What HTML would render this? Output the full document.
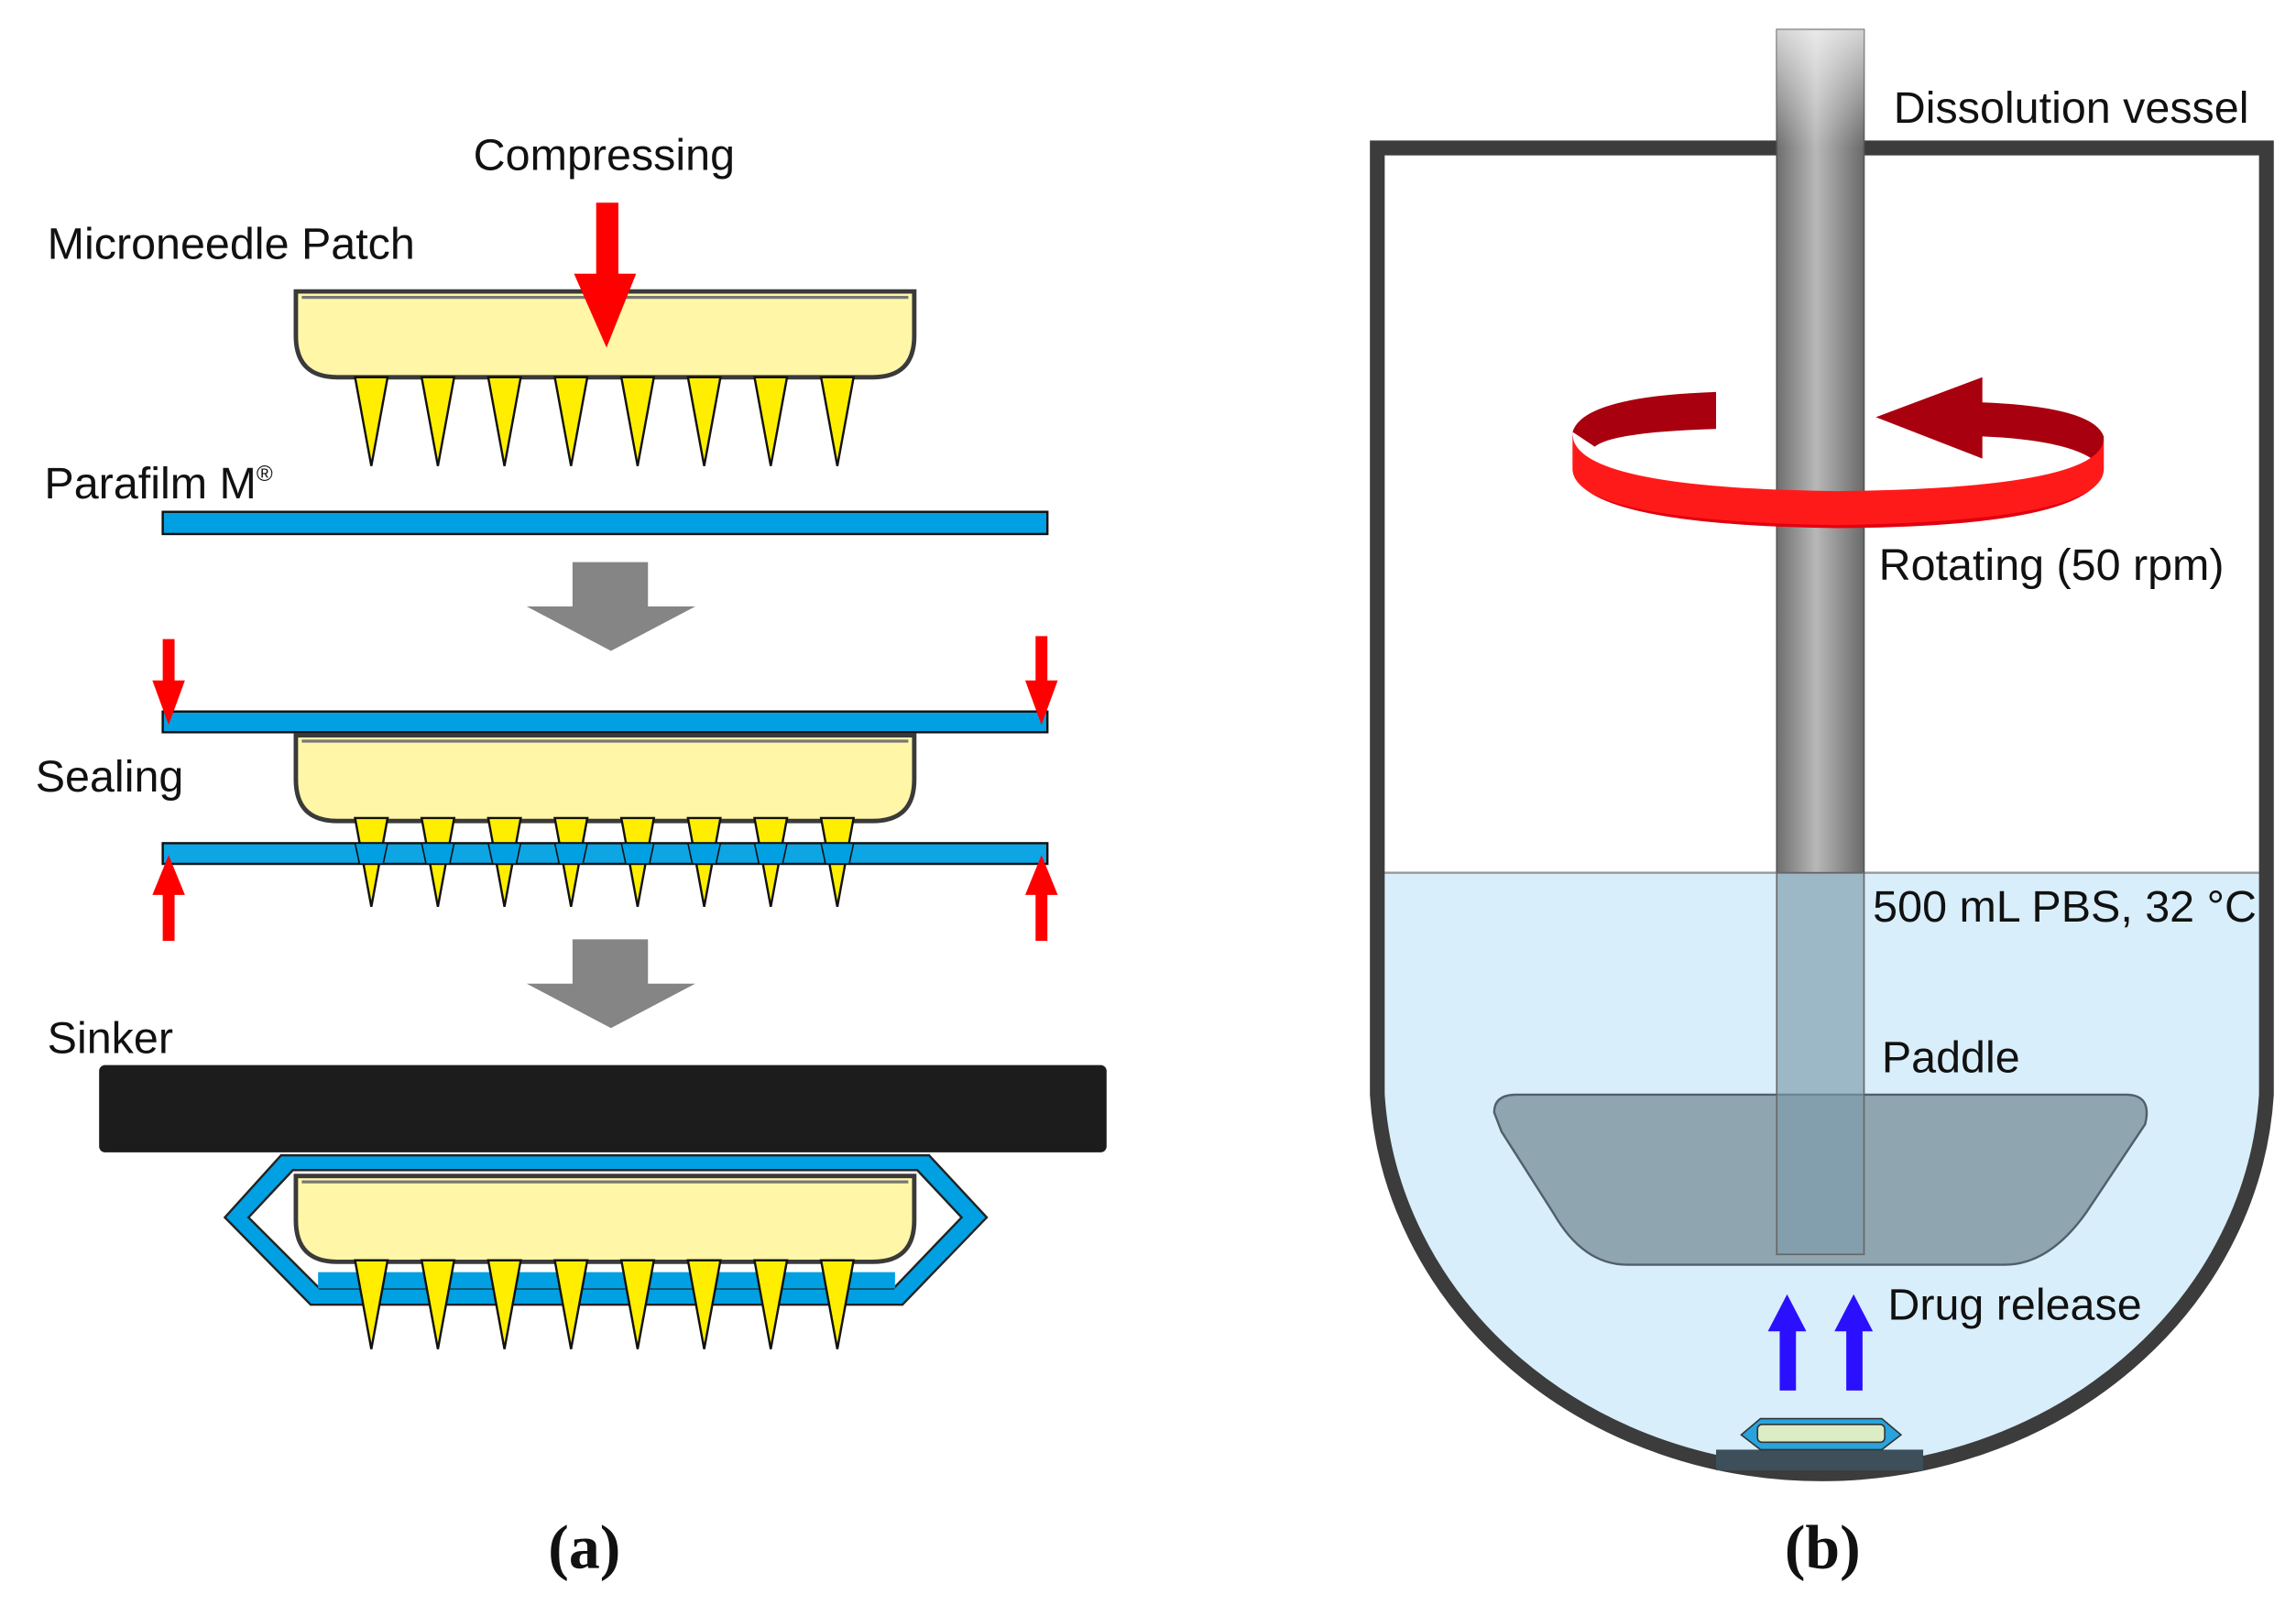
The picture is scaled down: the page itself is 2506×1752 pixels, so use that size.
<!DOCTYPE html>
<html><head><meta charset="utf-8"><style>
html,body{margin:0;padding:0;background:#fff;}
svg{display:block;}
text{font-family:"Liberation Sans",sans-serif;font-size:30px;fill:#111;}
</style></head><body>
<svg width="2506" height="1752" viewBox="0 0 1552 1085" xmlns="http://www.w3.org/2000/svg">
<defs>
<linearGradient id="sh" x1="0" x2="1" y1="0" y2="0">
<stop offset="0" stop-color="#6e6e6e"/><stop offset="0.45" stop-color="#b8b8b8"/><stop offset="1" stop-color="#6a6a6a"/>
</linearGradient>
<linearGradient id="shtop" x1="0" x2="0" y1="0" y2="1">
<stop offset="0" stop-color="#fff" stop-opacity="0.7"/><stop offset="1" stop-color="#fff" stop-opacity="0"/>
</linearGradient>
<g id="patch">
<path d="M0,0 H418 V30 Q418,58 390,58 H28 Q0,58 0,30 Z" fill="#fff6a8" stroke="#3a3a3a" stroke-width="3"/>
<path d="M4,4 H414" stroke="#777" stroke-width="2"/>
</g>
<g id="needles" fill="#ffee00" stroke="#111" stroke-width="1.5">
<path d="M40,0 L62,0 L51,60 Z"/><path d="M85,0 L107,0 L96,60 Z"/><path d="M130,0 L152,0 L141,60 Z"/><path d="M175,0 L197,0 L186,60 Z"/>
<path d="M220,0 L242,0 L231,60 Z"/><path d="M265,0 L287,0 L276,60 Z"/><path d="M310,0 L332,0 L321,60 Z"/><path d="M355,0 L377,0 L366,60 Z"/>
</g>
</defs>

<!-- Panel a -->
<text x="320" y="115">Compressing</text>
<text x="32" y="175">Microneedle Patch</text>
<use href="#patch" x="200" y="197"/>
<use href="#needles" x="200" y="255"/>
<path d="M403,137 H418 V185 H430 L410,235 L388,185 H403 Z" fill="#ff0000"/>

<text x="30" y="337">Parafilm M<tspan dy="-12" style="font-size:15px">®</tspan></text>
<rect x="110" y="346" width="598" height="15" fill="#00a0e3" stroke="#111" stroke-width="1.5"/>

<path d="M387,380 H438 V410 H470 L413,440 L356,410 H387 Z" fill="#858585"/>

<rect x="110" y="481" width="598" height="14" fill="#00a0e3" stroke="#111" stroke-width="1.5"/>
<use href="#patch" x="200" y="497"/>
<use href="#needles" x="200" y="553"/>
<rect x="110" y="570" width="598" height="14" fill="#00a0e3" fill-opacity="0.95" stroke="#111" stroke-width="1.5"/>
<g fill="#00a0e3" stroke="#111" stroke-width="1">
<path d="M240,570 L262,570 L259,584 L243,584 Z"/><path d="M285,570 L307,570 L304,584 L288,584 Z"/><path d="M330,570 L352,570 L349,584 L333,584 Z"/><path d="M375,570 L397,570 L394,584 L378,584 Z"/><path d="M420,570 L442,570 L439,584 L423,584 Z"/><path d="M465,570 L487,570 L484,584 L468,584 Z"/><path d="M510,570 L532,570 L529,584 L513,584 Z"/><path d="M555,570 L577,570 L574,584 L558,584 Z"/>
</g>
<text x="24" y="535">Sealing</text>
<g fill="#ff0000">
<path d="M110,432 H118 V460 H125 L114,490 L103,460 H110 Z"/>
<path d="M700,430 H708 V460 H715 L704,490 L693,460 H700 Z"/>
<path d="M110,636 H118 V605 H125 L114,578 L103,605 H110 Z"/>
<path d="M700,636 H708 V605 H715 L704,578 L693,605 H700 Z"/>
</g>

<path d="M387,635 H438 V665 H470 L413,695 L356,665 H387 Z" fill="#858585"/>

<text x="32" y="712">Sinker</text>
<rect x="67" y="720" width="681" height="59" rx="4" fill="#1c1c1c"/>
<path d="M152,823 L190,781 H628 L667,823 L610,882 H210 Z" fill="#00a0e3" stroke="#222" stroke-width="1.5"/>
<path d="M168,823 L198,791 H620 L650,823 L604,871 H216 Z" fill="#fff" stroke="#222" stroke-width="1.5"/>
<use href="#patch" x="200" y="795"/>
<rect x="215" y="860" width="390" height="11" fill="#00a0e3"/>
<use href="#needles" x="200" y="852"/>
<text x="395" y="1060" text-anchor="middle" style="font-family:'Liberation Serif',serif;font-weight:bold;font-size:42px">(a)</text>

<!-- Panel b -->
<path d="M931,590 H1532 V740 A301,272 0 0 1 931,740 Z" fill="#d8eefa"/>
<line x1="931" y1="590" x2="1532" y2="590" stroke="#999" stroke-width="1.5"/>
<path d="M1010,752 Q1010,740 1025,740 H1437 Q1455,740 1450,760 L1410,820 Q1385,855 1355,855 H1100 Q1070,855 1050,820 L1015,765 Z" fill="#8fa5b0" stroke="#50606a" stroke-width="1.5"/>
<path d="M931,100 V740 A301,272 0 0 0 1532,740 V100 Z" fill="none" stroke="#3c3c3c" stroke-width="10"/>
<rect x="1201" y="20" width="59" height="570" fill="url(#sh)" stroke="#555" stroke-width="1"/>
<rect x="1201" y="20" width="59" height="80" fill="url(#shtop)"/>
<rect x="1201" y="590" width="59" height="258" fill="#7d99aa" fill-opacity="0.65" stroke="#666" stroke-width="1"/>
<!-- rotation ribbon -->
<path d="M1063,292 Q1070,268 1160,265 L1160,290 Q1090,292 1078,302 Z" fill="#a8000f"/>
<path d="M1268,282 L1340,255 L1340,272 Q1415,275 1422,295 L1422,318 Q1410,298 1340,295 L1340,310 Z" fill="#a8000f"/>
<path d="M1063,292 Q1063,345 1242,352 Q1422,345 1422,295 L1422,318 Q1415,356 1242,357 Q1070,355 1063,318 Z" fill="#e00010"/>
<path d="M1063,292 Q1060,330 1242,332 Q1425,330 1422,295 L1422,318 Q1420,352 1242,355 Q1066,352 1063,318 Z" fill="#ff1a1a"/>
<g fill="#2a10ff">
<path d="M1203,940 H1214 V900 H1221 L1208,875 L1195,900 H1203 Z"/>
<path d="M1248,940 H1259 V900 H1266 L1253,875 L1240,900 H1248 Z"/>
</g>
<rect x="1160" y="980" width="140" height="14" fill="#3d4f5a"/>
<path d="M1177,970 L1190,959 H1272 L1285,970 L1272,980 H1190 Z" fill="#29a3dd" stroke="#333" stroke-width="1"/>
<rect x="1188" y="963" width="86" height="12" rx="3" fill="#dcecc4" stroke="#333" stroke-width="1"/>
<text x="1280" y="83">Dissolution vessel</text>
<text x="1270" y="392">Rotating (50 rpm)</text>
<text x="1266" y="623">500 mL PBS, 32 °C</text>
<text x="1272" y="725">Paddle</text>
<text x="1276" y="892">Drug release</text>
<text x="1232" y="1060" text-anchor="middle" style="font-family:'Liberation Serif',serif;font-weight:bold;font-size:42px">(b)</text>
</svg>
</body></html>
